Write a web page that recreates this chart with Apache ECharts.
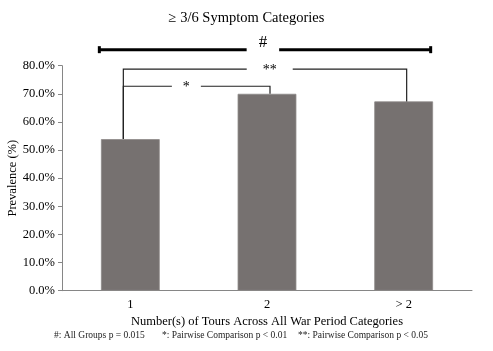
<!DOCTYPE html>
<html>
<head>
<meta charset="utf-8">
<style>
  html, body { margin: 0; padding: 0; background: #fff; }
  #chart { width: 493px; height: 351px; }
</style>
<script src="https://cdn.jsdelivr.net/npm/echarts@6/dist/echarts.min.js"></script>
</head>
<body>
<div id="chart"></div>
<script>
var categories = ["1", "2", "> 2"];
var prevalence = [0.539, 0.700, 0.673];
var yTicks = [0, 0.1, 0.2, 0.3, 0.4, 0.5, 0.6, 0.7, 0.8];
// [from category, to category, bracket level, label position (category units), label]
var brackets = [
  [0, 2, 0.857, 0.97, "#"],
  [0, 2, 0.788, 1.02, "**"],
  [0, 1, 0.727, 0.41, "*"]
];
var footnotes = ["#: All Groups p = 0.015", "*: Pairwise Comparison p < 0.01", "**: Pairwise Comparison p < 0.05"];

(function () {
  "use strict";
  var serif = "'Liberation Serif', 'DejaVu Serif', serif";
  var axisGray = "#868686";
  var chart = echarts.init(document.getElementById("chart"));

  function renderBracket(params, api) {
    var from = api.value(0), to = api.value(1), level = api.value(2), pos = api.value(3);
    var label = brackets[params.dataIndex][4];
    var c0 = api.coord([0, level]), c1 = api.coord([1, level]);
    var step = c1[0] - c0[0];
    var y = c0[1];
    var xFrom = c0[0] + step * from, xTo = c0[0] + step * to;
    var xText = c0[0] + step * pos;
    var kids = [];
    if (label === "#") {
      var l = xFrom - 31, r = xTo + 27;
      var ls = { stroke: "#000", lineWidth: 3, fill: null };
      kids.push({ type: "line", shape: { x1: l, y1: y, x2: r, y2: y }, style: ls });
      kids.push({ type: "line", shape: { x1: l, y1: y - 3.5, x2: l, y2: y + 3.5 }, style: ls });
      kids.push({ type: "line", shape: { x1: r, y1: y - 3.5, x2: r, y2: y + 3.5 }, style: ls });
      kids.push({ type: "text", x: xText, y: y - 7, style: {
        text: label, font: "17px " + serif, fill: "#000", align: "center", verticalAlign: "middle",
        backgroundColor: "#fff", padding: [4, 12] } });
    } else {
      var lx = xFrom - 7, rx = xTo + 3;
      var yl = api.coord([from, prevalence[from]])[1];
      var yr = api.coord([to, prevalence[to]])[1];
      var ts = { stroke: "#222", lineWidth: 1.2, fill: null };
      kids.push({ type: "polyline", shape: { points: [[lx, yl], [lx, y], [rx, y], [rx, yr]] }, style: ts });
      kids.push({ type: "text", x: xText, y: y + 1, style: {
        text: label, font: "14px " + serif, fill: "#000", align: "center", verticalAlign: "middle",
        backgroundColor: "#fff", padding: [2, label === "**" ? 16 : 11] } });
    }
    return { type: "group", children: kids };
  }

  var footLeft = [54, 162, 298];
  var foot = footnotes.map(function (t, i) {
    return { type: "text", left: footLeft[i], top: 330, style: { text: t, font: "9.5px " + serif, fill: "#222" } };
  });

  chart.setOption({
    animation: false,
    title: {
      text: "\u2265 3/6 Symptom Categories", left: "center", top: 6,
      textStyle: { fontFamily: serif, fontSize: 14.5, fontWeight: "normal", color: "#000" }
    },
    grid: { left: 62, right: 21, top: 65.7, bottom: 60.3, outerBoundsMode: "none" },
    xAxis: {
      type: "category", data: categories,
      name: "Number(s) of Tours Across All War Period Categories",
      nameLocation: "middle", nameGap: 25, nameMoveOverlap: false,
      nameTextStyle: { fontFamily: serif, fontSize: 12.5, color: "#000" },
      axisLine: { lineStyle: { color: axisGray } },
      axisTick: { show: false },
      axisLabel: { fontFamily: serif, fontSize: 12.5, color: "#000", margin: 8 }
    },
    yAxis: {
      type: "value", min: yTicks[0], max: yTicks[yTicks.length - 1], interval: 0.1,
      name: "Prevalence (%)", nameLocation: "middle", nameGap: 43, nameMoveOverlap: false,
      nameTextStyle: { fontFamily: serif, fontSize: 12.5, color: "#000" },
      axisLine: { show: true, lineStyle: { color: axisGray } },
      axisTick: { show: true, inside: false, length: 4, lineStyle: { color: axisGray } },
      splitLine: { show: false },
      axisLabel: {
        fontFamily: serif, fontSize: 12.5, color: "#000", margin: 7,
        formatter: function (v) { return (v * 100).toFixed(1) + "%"; }
      }
    },
    graphic: foot,
    series: [{
      type: "bar", data: prevalence, barWidth: "43%",
      itemStyle: { color: "#767170", borderColor: "#8e8a89", borderWidth: 0.8 }
    }, {
      type: "custom", renderItem: renderBracket, clip: false, z: 5,
      encode: { x: [0, 1], y: 2 },
      data: brackets.map(function (b) { return [b[0], b[1], b[2], b[3]]; })
    }]
  });
})();
</script>
</body>
</html>
